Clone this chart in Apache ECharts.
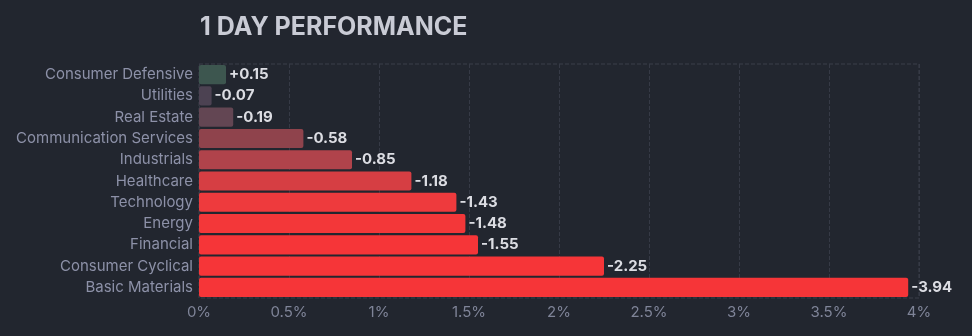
<!DOCTYPE html>
<html><head><meta charset="utf-8">
<script src="https://cdn.jsdelivr.net/npm/echarts@6/dist/echarts.min.js"></script>
<style>html,body{margin:0;padding:0;background:#22262f;}#c{width:972px;height:336px;}</style>
</head><body><div id="c"></div>
<script>
const categories = ["Consumer Defensive","Utilities","Real Estate","Communication Services","Industrials","Healthcare","Technology","Energy","Financial","Consumer Cyclical","Basic Materials"];
const performance = [0.15,-0.07,-0.19,-0.58,-0.85,-1.18,-1.43,-1.48,-1.55,-2.25,-3.94];
const barColors = ["#3d564f","#4c4252","#634653","#8f434c","#b0434b","#d63e43","#ee3a3d","#f33739","#f63538","#f63538","#f63538"];
const xTicks = [0,0.5,1,1.5,2,2.5,3,3.5,4];

const chart = echarts.init(document.getElementById('c'), null, {renderer:'canvas'});
chart.setOption({
  backgroundColor:'#22262f',
  animation:false,
  title:{text:'1 DAY PERFORMANCE', left:195, top:10, textStyle:{color:'#c9cbd5', fontSize:25, fontWeight:'bold', fontFamily:'Inter'}},
  grid:{left:199, right:53, top:64, bottom:38, show:true, borderColor:'#3a3e4a', borderWidth:1, borderType:'dashed', backgroundColor:'transparent'},
  xAxis:{type:'value', min:0, max:4, interval:0.5,
    axisLine:{show:false}, axisTick:{show:false},
    splitLine:{show:true, lineStyle:{color:'#363a46', type:'dashed'}},
    axisLabel:{color:'#7f8498', fontSize:15, fontFamily:'Inter', margin:7, formatter:v=>v+'%'}},
  yAxis:{type:'category', data:categories, inverse:true,
    axisLine:{show:false}, axisTick:{show:false}, splitLine:{show:false},
    axisLabel:{color:'#8d91a8', fontSize:15, fontFamily:'Inter', margin:6}},
  series:[{type:'bar', barCategoryGap:'10%',
    data:performance.map((v,i)=>({value:Math.abs(v), label:(v>0?'+':'')+v.toFixed(2), itemStyle:{color:barColors[i]}})),
    itemStyle:{borderRadius:2},
    label:{show:true, position:'right', distance:3, color:'#dcdde3', fontSize:15, fontWeight:'bold', fontFamily:'Inter',
      formatter:p=>p.data.label}
  }]
});
</script></body></html>
